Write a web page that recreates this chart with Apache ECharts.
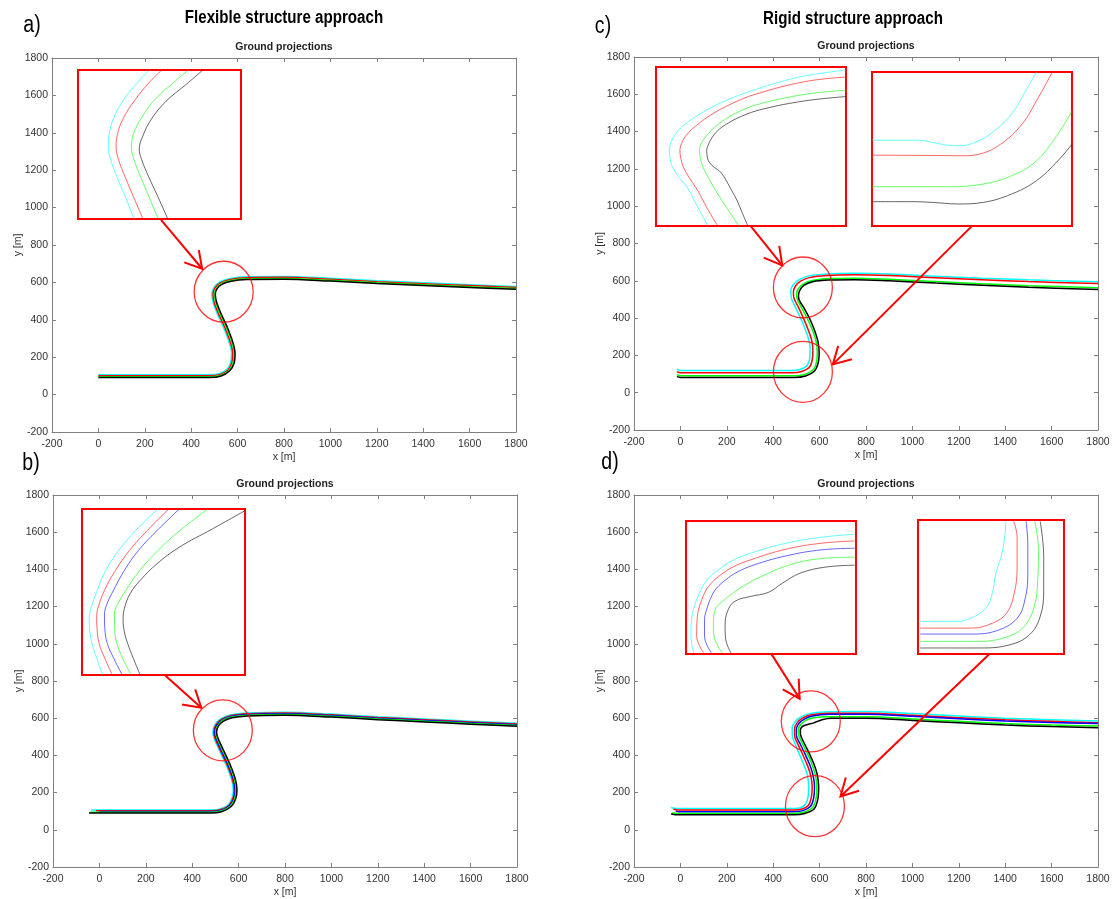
<!DOCTYPE html>
<html><head><meta charset="utf-8">
<script src="https://cdn.jsdelivr.net/npm/echarts@6/dist/echarts.min.js"></script>
<style>html,body{margin:0;padding:0;background:#fff}#c{width:1114px;height:899px}</style>
</head><body><div id="c"></div>
<script>
// ---------- texts / ticks ----------
const axisTicks = [-200, 0, 200, 400, 600, 800, 1000, 1200, 1400, 1600, 1800];
const columnTitles = ['Flexible structure approach', 'Rigid structure approach'];
const panelLetters = ['a)', 'b)', 'c)', 'd)'];
const plotTitle = 'Ground projections';
const xName = 'x [m]';
const yName = 'y [m]';
const CYAN = '#00ffff', RED = '#ff0000', BLUE = '#0000ff', GREEN = '#00ff00', BLACK = '#000000';

// ---------- panel a (flexible, 4 lines) ----------
const aCyan  = [[0,106],[480,106],[524,113],[554,135],[570,172],[574,220],[564,278],[540,357],[514,427],[494,493],[489,535],[498,572],[523,602],[568,621],[640,630],[800,632],[1000,622],[1200,609],[1400,598],[1600,588],[1800,578]];
const aRed   = [[0,101],[480,101],[525,108],[558,132],[575,171],[579,220],[569,279],[545,359],[519,429],[499,494],[494,535],[502,569],[526,597],[569,616],[640,625],[800,627],[1000,617],[1200,604],[1400,593],[1600,583],[1800,573]];
const aGreen = [[0,95],[480,95],[525,102],[562,128],[581,169],[585,220],[575,281],[551,361],[525,431],[505,496],[500,535],[508,567],[530,593],[571,610],[640,619],[800,621],[1000,611],[1200,598],[1400,587],[1600,577],[1800,567]];
const aBlack = [[0,91],[480,91],[526,98],[565,126],[585,168],[589,220],[579,282],[555,362],[529,432],[509,497],[504,535],[511,565],[532,589],[572,606],[640,615],[800,617],[1000,607],[1200,594],[1400,583],[1600,573],[1800,563]];
const aCircles = [[540,550]];
const aArrows = [
  [[270,934],[447,673]], [[370,707],[447,673],[433,773]]
];
// inset a (local 0..100 coordinates)
const aInCyan  = [[43.8,100],[36,91],[28,80],[22,68],[19,56],[18.6,48],[20,40],[24,28],[29,15],[34.4,0]];
const aInRed   = [[51.4,100],[44,92],[35,80],[28,68],[24,56],[23.4,48],[24.8,40],[29,28],[34,15],[39.8,0]];
const aInGreen = [[67.8,100],[58,91],[47,80],[39,68],[34,57],[32.8,48],[34.3,40],[38.5,28],[43.5,15],[49.2,0]];
const aInBlack = [[76.6,100],[66,90],[54,79],[45,67],[39.5,55],[37.6,47],[39,40],[43.5,28],[49,15],[55.1,0]];

// ---------- panel b (flexible, 5 lines) ----------
const bCyan  = [[-35,106],[480,106],[524,113],[556,135],[572,172],[577,215],[569,273],[545,352],[517,427],[495,490],[489,525],[498,564],[523,597],[568,618],[640,628],[800,632],[1000,622],[1200,608],[1400,596],[1600,584],[1800,573]];
const bRed   = [[-15,102],[480,102],[525,109],[559,132],[576,171],[581,215],[573,274],[549,354],[521,429],[499,491],[493,525],[501,562],[526,593],[569,614],[640,624],[800,628],[1000,618],[1200,604],[1400,592],[1600,580],[1800,569]];
const bBlue  = [[0,98],[480,98],[525,105],[562,130],[580,170],[585,215],[577,275],[553,355],[525,430],[503,492],[497,525],[505,560],[528,590],[570,610],[640,620],[800,624],[1000,614],[1200,600],[1400,588],[1600,576],[1800,565]];
const bGreen = [[-40,94],[480,94],[525,101],[565,128],[584,169],[589,215],[581,276],[557,356],[529,431],[507,493],[501,525],[509,558],[530,587],[571,606],[640,616],[800,620],[1000,610],[1200,596],[1400,584],[1600,572],[1800,561]];
const bBlack = [[-45,90],[480,90],[526,97],[568,125],[588,168],[593,215],[585,277],[561,358],[533,433],[511,494],[505,525],[512,556],[533,583],[572,602],[640,612],[800,616],[1000,606],[1200,592],[1400,580],[1600,568],[1800,557]];
const bCircles = [[532,535]];
const bArrows = [
  [[279,835],[439,656]], [[356,674],[439,656],[413,755]]
];
const bInCyan  = [[46.6,100],[33,87],[22.5,75],[14.5,63],[9.4,51],[5.5,40],[4.4,33],[5,25],[6.1,19],[9,10],[12.7,0]];
const bInRed   = [[53.2,100],[40,87],[29.1,75],[20.5,63],[13.8,51],[10,41],[9,35],[9.3,27],[10.5,19],[14,10],[18.6,0]];
const bInBlue  = [[59.7,100],[46,87],[34.6,75],[26,63],[19.3,51],[15,42],[13.8,36],[14,28],[15.5,19],[19.5,10],[24.7,0]];
const bInGreen = [[77.2,100],[60,87],[46.6,75],[35.5,63],[26.9,51],[21.5,42],[19.9,37],[20,28],[21.4,19],[25,10],[30.2,0]];
const bInBlack = [[100,99],[80,88],[59.7,77],[46,67],[35.7,57],[29.5,49],[26,40],[25.2,33],[26,26],[28,19],[31.5,10],[35.7,0]];

// ---------- panel c (rigid, 4 lines) ----------
const cCyan  = [[-15,126],[0,119],[250,119],[480,119],[515,124],[545,145],[557,180],[559,240],[552,290],[538,340],[518,400],[495,460],[478,510],[476,550],[487,580],[510,605],[550,625],[630,636],[750,640],[900,636],[1100,625],[1300,614],[1500,605],[1800,595]];
const cRed   = [[-15,112],[0,107],[250,107],[480,107],[520,112],[555,135],[568,175],[571,230],[565,285],[550,340],[530,400],[508,460],[490,505],[487,540],[496,572],[518,598],[556,617],[630,628],[750,632],[900,628],[1100,617],[1300,606],[1500,596],[1800,585]];
const cGreen = [[-15,96],[0,91],[250,91],[490,91],[535,98],[570,120],[586,160],[590,220],[584,280],[568,340],[546,400],[520,460],[503,505],[501,532],[510,560],[532,585],[568,602],[640,612],[750,614],[900,608],[1100,596],[1300,584],[1500,574],[1800,563]];
const cBlack = [[-15,86],[0,82],[250,82],[490,82],[540,90],[577,115],[594,160],[598,220],[592,280],[578,335],[558,395],[535,450],[515,490],[509,515],[513,545],[532,575],[570,595],[640,604],[750,606],[900,600],[1100,588],[1300,576],[1500,565],[1800,554]];
const cCircles = [[528,564],[528,112]];
const cArrows = [
  [[304,892],[439,683]], [[359,724],[439,683],[426,787]],
  [[1255,892],[657,152]], [[739,179],[657,152],[680,251]]
];
const cInLCyan  = [[100,98.1],[78.4,94.4],[62,89.5],[50.2,85],[37,79],[25.8,72.4],[17,65.5],[11.7,60],[8,53],[7,47.3],[7.6,41],[8.8,36.8],[12.5,30],[16.4,24.3],[22,11.7],[27.3,0]];
const cInLRed   = [[100,93.7],[78.4,90.8],[52.1,82.8],[40,77],[29.5,70.3],[21.5,63.5],[16.4,57.7],[13.5,52],[12.6,47.3],[13.2,42],[14.5,36.8],[18,29.5],[22,22.2],[27,11],[32.5,0]];
const cInLGreen = [[100,85.4],[78.4,82.8],[54,76.6],[43,71.5],[35.2,66.1],[29.5,60.5],[25.8,55.6],[23.5,51],[22.9,47.3],[23.5,42],[24.8,36.8],[28,29.5],[31.4,22.2],[37.5,11],[43.6,0]];
const cInLBlack = [[100,81.4],[78.4,78.7],[55.8,73.4],[45,69],[37,64],[32.5,60],[29.5,55.6],[27.5,51],[26.7,47.3],[27,43.5],[27.6,41],[30,37.5],[33.3,34.7],[35.5,31.5],[37,28.5],[40,22],[42.7,15.9],[45.5,8],[48.3,0]];
const cInRCyan  = [[0,55.7],[23.4,55.7],[30.5,54.2],[37.6,52.5],[43,52.1],[50.1,53.6],[59,59.6],[69.7,72.6],[76.8,87.7],[82.2,100]];
const cInRRed   = [[0,46],[30.5,45.8],[44.7,45.6],[53.7,46.7],[64.3,53.1],[75,66.1],[82.2,81.2],[90.2,100]];
const cInRGreen = [[0,25.5],[37.6,25.5],[55.4,27.2],[69.7,32.6],[82.2,42.3],[92.9,59.6],[100,74.7]];
const cInRBlack = [[0,15.8],[19.8,15.8],[30.5,15.3],[43,14.3],[55.4,15.3],[69.7,20.7],[82.2,29.4],[92.9,42.3],[100,53.1]];

// ---------- panel d (rigid, 5 lines) ----------
const dCyan  = [[-40,120],[-20,115],[250,115],[490,115],[520,120],[540,140],[550,175],[553,230],[548,290],[535,340],[515,400],[495,460],[482,510],[482,550],[494,580],[518,605],[560,625],[640,635],[800,636],[1000,625],[1200,612],[1400,600],[1600,592],[1800,585]];
const dRed   = [[-30,110],[-10,106],[250,106],[490,106],[525,112],[552,132],[564,172],[568,230],[562,290],[548,345],[527,405],[506,462],[492,508],[492,545],[503,575],[526,600],[566,618],[640,627],[800,627],[1000,616],[1200,603],[1400,591],[1600,583],[1800,576]];
const dBlue  = [[-20,100],[0,97],[250,97],[490,97],[528,103],[560,125],[574,168],[578,230],[572,292],[558,348],[537,408],[515,465],[500,508],[500,542],[510,570],[532,594],[570,612],[640,621],[800,621],[1000,610],[1200,597],[1400,585],[1600,577],[1800,571]];
const dGreen = [[-35,92],[-15,88],[250,88],[490,88],[532,94],[568,118],[584,165],[588,230],[582,294],[568,350],[547,410],[525,466],[510,508],[509,540],[518,565],[540,588],[576,602],[640,608],[800,608],[1000,596],[1200,583],[1400,571],[1600,563],[1800,558]];
const dBlack = [[-40,86],[-20,81],[250,81],[490,81],[536,88],[576,112],[592,162],[596,230],[590,296],[576,352],[555,412],[533,468],[518,510],[517,535],[525,555],[545,565],[575,575],[610,592],[650,600],[800,600],[1000,588],[1200,575],[1400,563],[1600,555],[1800,549]];
const dCircles = [[562,583],[580,127]];
const dArrows = [
  [[392,946],[514,705]], [[441,755],[514,705],[510,812]],
  [[1333,946],[690,179]], [[770,210],[690,179],[713,281]]
];
const dInLCyan  = [[99.2,90],[79.7,87.8],[58.9,83.3],[38,75.8],[27,70],[19.2,63.3],[12.5,56],[8.8,48.3],[5.5,38],[3.5,28.3],[2.9,13.3],[4.6,0.8]];
const dInLRed   = [[99.2,85],[79.7,83.3],[58.9,78.8],[38,70.8],[27,65],[19.2,58.3],[14,52],[10.9,45.8],[8,36],[6.7,28.3],[6.3,13.3],[10.4,0.8]];
const dInLBlue  = [[99.2,79.5],[79.7,78.3],[58.9,73.8],[40.1,67],[30,61.5],[23.4,55.8],[18,49.5],[15,43.3],[12.3,34],[10.9,25.8],[10.9,13.3],[15,0.8]];
const dInLGreen = [[99.2,72.8],[79.7,71.8],[61,67],[44.3,58.3],[35,52],[27.6,45.8],[21,39],[17.1,33.3],[16.1,20.8],[17.1,10.8],[21.3,0.8]];
const dInLBlack = [[99.2,66.8],[81.8,65.3],[67.2,60.8],[56.8,53.3],[48.4,46.3],[38,43.3],[28.6,39.5],[24.4,32],[23,20.8],[23.4,10.8],[26.5,0.8]];
const dInRCyan  = [[1.5,24.3],[26.5,24.3],[38.7,28],[47.2,35.4],[50.9,45.3],[53.3,60.1],[56.9,72.5],[59.4,87.4],[60.1,99]];
const dInRRed   = [[1.5,19.3],[36.3,19.3],[50.9,23],[60.6,30.4],[65.9,45.3],[67.9,65.1],[67.9,87.4],[65.5,99]];
const dInRBlue  = [[1.5,14.9],[38.7,14.9],[55.7,18.1],[67.9,26.7],[73.2,40.3],[75.2,60.1],[75.2,82.4],[74,99]];
const dInRGreen = [[1.5,9.4],[41.1,9.4],[60.6,12.6],[72.7,20.5],[79.6,35.4],[82,55.2],[82.5,77.5],[80,99]];
const dInRBlack = [[1.5,4.5],[43.6,4.5],[63,6.9],[76.4,14.4],[83.7,28],[86.1,47.8],[86.1,72.5],[83.7,99]];

// ---------- layout ----------
const AXIS = '#808080', LABEL = '#333333';
const FONT = '"Liberation Sans", Arial, sans-serif';
const grids = [], xAxes = [], yAxes = [], series = [];

function mainPanel(box, lines, circles, arrows) {
  const gi = grids.length;
  grids.push(Object.assign({show: false, containLabel: false, outerBoundsMode: 'none'}, box));
  const base = {
    type: 'value', gridIndex: gi,
    min: axisTicks[0], max: axisTicks[axisTicks.length - 1], interval: axisTicks[1] - axisTicks[0],
    splitLine: {show: false},
    axisLine: {show: true, onZero: false, lineStyle: {color: AXIS, width: 1}},
    axisTick: {show: true, inside: true, length: 4, lineStyle: {color: AXIS, width: 1}}
  };
  const lab = {show: true, color: LABEL, fontSize: 10.5, fontFamily: FONT, formatter: v => String(v)};
  const xb = xAxes.length;
  xAxes.push(Object.assign({}, base, {position: 'bottom', axisLabel: Object.assign({}, lab, {margin: 7}),
    name: xName, nameLocation: 'middle', nameGap: 20, nameMoveOverlap: false,
    nameTextStyle: {color: LABEL, fontSize: 10.5, fontFamily: FONT}}));
  xAxes.push(Object.assign({}, base, {position: 'top', axisLabel: {show: false},
    name: plotTitle, nameLocation: 'middle', nameGap: 5, nameMoveOverlap: false,
    nameTextStyle: {color: '#222', fontSize: 10.5, fontWeight: 'bold', fontFamily: FONT}}));
  const yl = yAxes.length;
  yAxes.push(Object.assign({}, base, {position: 'left', axisLabel: Object.assign({}, lab, {margin: 4}),
    name: yName, nameLocation: 'middle', nameGap: 28, nameMoveOverlap: false,
    nameTextStyle: {color: LABEL, fontSize: 10.5, fontFamily: FONT}}));
  yAxes.push(Object.assign({}, base, {position: 'right', axisLabel: {show: false}}));
  lines.forEach(([data, color]) => series.push({
    type: 'line', xAxisIndex: xb, yAxisIndex: yl, data, symbol: 'none', smooth: 0.35,
    lineStyle: {color, width: 1.5}, z: 3, silent: true, animation: false
  }));
  series.push({
    type: 'scatter', xAxisIndex: xb, yAxisIndex: yl, data: circles, symbol: 'circle', symbolSize: [59, 61],
    itemStyle: {color: 'rgba(0,0,0,0)', borderColor: '#ff0000', borderWidth: 1.3}, z: 5, silent: true, animation: false
  });
  series.push({
    type: 'lines', coordinateSystem: 'cartesian2d', xAxisIndex: xb, yAxisIndex: yl, polyline: true,
    data: arrows.map(c => ({coords: c})),
    lineStyle: {color: '#ff0000', width: 2, opacity: 1, curveness: 0}, z: 6, silent: true, animation: false
  });
}

function insetPanel(box, lines) {
  const gi = grids.length;
  grids.push(Object.assign({show: true, borderColor: '#ff0000', borderWidth: 2, backgroundColor: '#ffffff',
    containLabel: false, outerBoundsMode: 'none'}, box));
  const xi = xAxes.length, yi = yAxes.length;
  xAxes.push({type: 'value', gridIndex: gi, min: 0, max: 100, show: false});
  yAxes.push({type: 'value', gridIndex: gi, min: 0, max: 100, show: false});
  lines.forEach(([data, color]) => series.push({
    type: 'line', xAxisIndex: xi, yAxisIndex: yi, data, symbol: 'none', smooth: 0.4,
    lineStyle: {color, width: 1, opacity: 0.6}, z: 4, silent: true, animation: false
  }));
}

mainPanel({left: 52, top: 58, width: 464, height: 374},
  [[aCyan, CYAN], [aRed, RED], [aGreen, GREEN], [aBlack, BLACK]], aCircles, aArrows);
mainPanel({left: 53, top: 495, width: 464, height: 372},
  [[bCyan, CYAN], [bRed, RED], [bBlue, BLUE], [bGreen, GREEN], [bBlack, BLACK]], bCircles, bArrows);
mainPanel({left: 634, top: 57, width: 464, height: 373},
  [[cCyan, CYAN], [cRed, RED], [cGreen, GREEN], [cBlack, BLACK]], cCircles, cArrows);
mainPanel({left: 634, top: 495, width: 464, height: 372},
  [[dCyan, CYAN], [dRed, RED], [dBlue, BLUE], [dGreen, GREEN], [dBlack, BLACK]], dCircles, dArrows);

insetPanel({left: 78, top: 70, width: 163, height: 149},
  [[aInCyan, CYAN], [aInRed, RED], [aInGreen, GREEN], [aInBlack, BLACK]]);
insetPanel({left: 82, top: 509, width: 163, height: 166},
  [[bInCyan, CYAN], [bInRed, RED], [bInBlue, BLUE], [bInGreen, GREEN], [bInBlack, BLACK]]);
insetPanel({left: 656, top: 67, width: 190, height: 159},
  [[cInLCyan, CYAN], [cInLRed, RED], [cInLGreen, GREEN], [cInLBlack, BLACK]]);
insetPanel({left: 872, top: 72, width: 200, height: 154},
  [[cInRCyan, CYAN], [cInRRed, RED], [cInRGreen, GREEN], [cInRBlack, BLACK]]);
insetPanel({left: 686, top: 521, width: 170, height: 133},
  [[dInLCyan, CYAN], [dInLRed, RED], [dInLBlue, BLUE], [dInLGreen, GREEN], [dInLBlack, BLACK]]);
insetPanel({left: 918, top: 520, width: 146, height: 134},
  [[dInRCyan, CYAN], [dInRRed, RED], [dInRBlue, BLUE], [dInRGreen, GREEN], [dInRBlack, BLACK]]);

function label(text, x, y, size, bold, sx) {
  return {type: 'text', x, y, scaleX: sx, z: 10, silent: true,
    style: {text, fill: '#000', fontSize: size, fontWeight: bold ? 'bold' : 'normal', fontFamily: FONT,
      textAlign: 'center', textVerticalAlign: 'middle', align: 'center', verticalAlign: 'middle'}};
}

const chart = echarts.init(document.getElementById('c'), null, {renderer: 'canvas'});
chart.setOption({
  animation: false,
  backgroundColor: '#ffffff',
  grid: grids, xAxis: xAxes, yAxis: yAxes, series,
  graphic: [
    label(columnTitles[0], 284, 18, 18, true, 0.84),
    label(columnTitles[1], 853, 19, 18, true, 0.84),
    label(panelLetters[0], 32, 26, 23, false, 0.85),
    label(panelLetters[1], 31, 464, 23, false, 0.85),
    label(panelLetters[2], 603, 27, 23, false, 0.85),
    label(panelLetters[3], 610, 463, 23, false, 0.85)
  ]
});
</script></body></html>
